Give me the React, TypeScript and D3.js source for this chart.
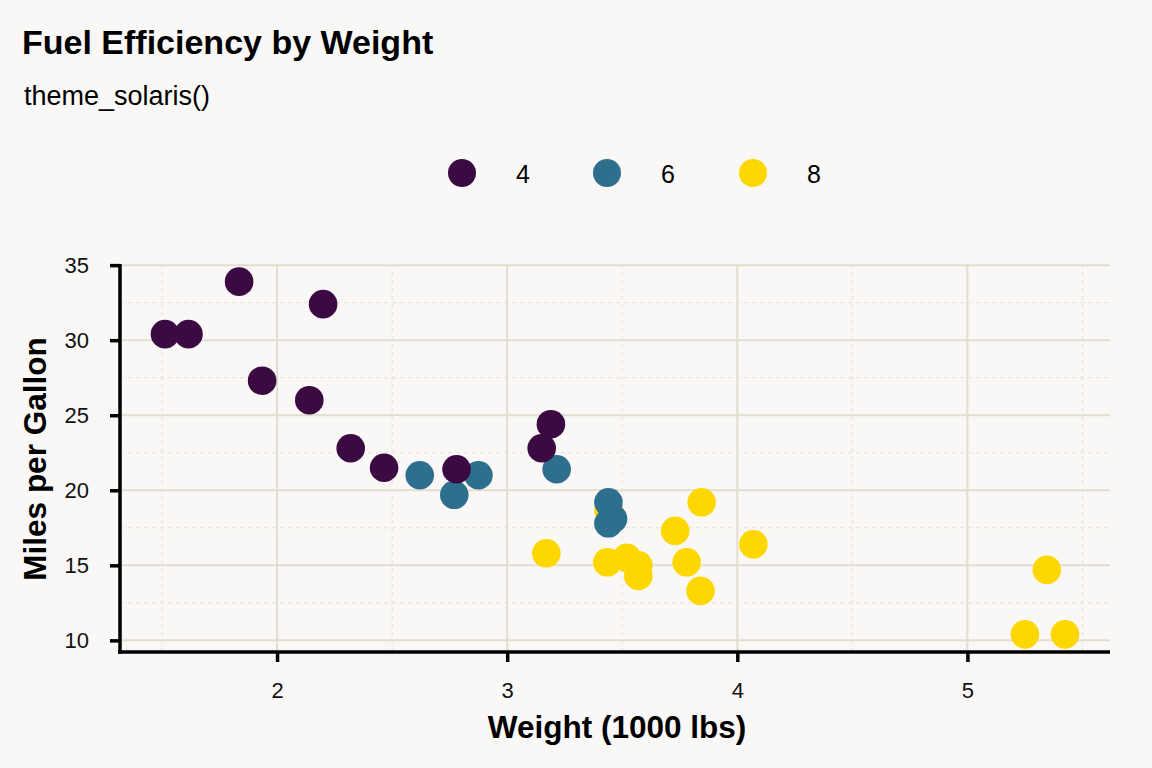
import React, { useEffect, useRef } from 'react';
import * as d3 from 'd3';

// mtcars: weight (1000 lbs), mpg, cylinders
const weights = [2.62, 2.875, 2.32, 3.215, 3.44, 3.46, 3.57, 3.19, 3.15, 3.44, 3.44, 4.07, 3.73, 3.78, 5.25, 5.424, 5.345, 2.2, 1.615, 1.835, 2.465, 3.52, 3.435, 3.84, 3.845, 1.935, 2.14, 1.513, 3.17, 2.77, 3.57, 2.78];
const mpg = [21.0, 21.0, 22.8, 21.4, 18.7, 18.1, 14.3, 24.4, 22.8, 19.2, 17.8, 16.4, 17.3, 15.2, 10.4, 10.4, 14.7, 32.4, 30.4, 33.9, 21.5, 15.5, 15.2, 13.3, 19.2, 27.3, 26.0, 30.4, 15.8, 19.7, 15.0, 21.4];
const cyl = [6, 6, 4, 6, 8, 6, 8, 4, 4, 6, 6, 8, 8, 8, 8, 8, 8, 4, 4, 4, 4, 8, 8, 8, 8, 4, 4, 4, 8, 6, 8, 4];

const cylLevels = [4, 6, 8];
const cylColors = ['#3c0a42', '#2e6f8e', '#ffd700'];
const xTicks = [2, 3, 4, 5];
const yTicks = [10, 15, 20, 25, 30, 35];
const xMinor = [1.5, 2.5, 3.5, 4.5, 5.5];
const yMinor = [12.5, 17.5, 22.5, 27.5, 32.5];

const W = 1152;
const H = 768;
const FONT = '"Liberation Sans", Arial, sans-serif';

const App: React.FC = () => {
  const svgRef = useRef<SVGSVGElement>(null);

  useEffect(() => {
    if (!svgRef.current) return;
    const svg = d3.select(svgRef.current);
    svg.selectAll('*').remove();

    const left = 120;
    const right = 1110;
    const top = 264;
    const bottom = 652;

    // ggplot-style 5% expansion around the data range
    const xExt = d3.extent(weights) as [number, number];
    const yExt = d3.extent(mpg) as [number, number];
    const xPad = (xExt[1] - xExt[0]) * 0.05;
    const yPad = (yExt[1] - yExt[0]) * 0.05;

    const x = d3.scaleLinear().domain([xExt[0] - xPad, xExt[1] + xPad]).range([left, right]);
    const y = d3.scaleLinear().domain([yExt[0] - yPad, yExt[1] + yPad]).range([bottom, top]);
    const color = d3.scaleOrdinal<number, string>().domain(cylLevels).range(cylColors);

    svg.append('rect').attr('width', W).attr('height', H).attr('fill', '#f9f8f6');

    svg.append('text')
      .attr('x', 22).attr('y', 54)
      .attr('font-family', FONT).attr('font-weight', 'bold').attr('font-size', 34)
      .attr('fill', '#000')
      .text('Fuel Efficiency by Weight');

    svg.append('text')
      .attr('x', 24).attr('y', 105)
      .attr('font-family', FONT).attr('font-size', 27)
      .attr('fill', '#000')
      .text('theme_solaris()');

    // legend
    const legendX = [462, 607, 753];
    const legend = svg.append('g');
    cylLevels.forEach((c, i) => {
      legend.append('circle')
        .attr('cx', legendX[i]).attr('cy', 173).attr('r', 14)
        .attr('fill', color(c));
      legend.append('text')
        .attr('x', legendX[i] + 54).attr('y', 174)
        .attr('dy', '0.35em')
        .attr('font-family', FONT).attr('font-size', 25)
        .text(String(c));
    });

    const grid = svg.append('g');
    const [x0, x1] = x.range();
    const [y0, y1] = y.range();

    grid.selectAll('.xminor').data(xMinor).enter().append('line')
      .attr('x1', (d) => x(d)).attr('x2', (d) => x(d))
      .attr('y1', y0).attr('y2', y1)
      .attr('stroke', '#e6dfd3').attr('stroke-width', 1).attr('stroke-dasharray', '4,4');
    grid.selectAll('.yminor').data(yMinor).enter().append('line')
      .attr('x1', x0).attr('x2', x1)
      .attr('y1', (d) => y(d)).attr('y2', (d) => y(d))
      .attr('stroke', '#e6dfd3').attr('stroke-width', 1).attr('stroke-dasharray', '4,4');
    grid.selectAll('.xmajor').data(xTicks).enter().append('line')
      .attr('x1', (d) => x(d)).attr('x2', (d) => x(d))
      .attr('y1', y0).attr('y2', y1)
      .attr('stroke', '#e4ddcf').attr('stroke-width', 2);
    grid.selectAll('.ymajor').data(yTicks).enter().append('line')
      .attr('x1', x0).attr('x2', x1)
      .attr('y1', (d) => y(d)).attr('y2', (d) => y(d))
      .attr('stroke', '#e4ddcf').attr('stroke-width', 2);

    // axes: only left and bottom lines, ticks outward
    const styleAxis = (g: any) => {
      g.select('.domain').remove();
      g.selectAll('line').attr('stroke', '#000').attr('stroke-width', 3.5);
      g.selectAll('text').attr('fill', '#111').attr('font-family', FONT).attr('font-size', 22);
    };

    svg.append('g')
      .attr('transform', `translate(0,${bottom})`)
      .call(d3.axisBottom(x).tickValues(xTicks).tickSize(10).tickPadding(20).tickFormat(d3.format('d')))
      .call(styleAxis);

    svg.append('g')
      .attr('transform', `translate(${left},0)`)
      .call(d3.axisLeft(y).tickValues(yTicks).tickSize(10).tickPadding(21).tickFormat(d3.format('d')))
      .call(styleAxis);

    svg.append('line')
      .attr('x1', left).attr('x2', left).attr('y1', top).attr('y2', bottom + 1.75)
      .attr('stroke', '#000').attr('stroke-width', 3.5);
    svg.append('line')
      .attr('x1', left - 1.75).attr('x2', right).attr('y1', bottom).attr('y2', bottom)
      .attr('stroke', '#000').attr('stroke-width', 3.5);

    svg.append('g').selectAll('circle')
      .data(weights.map((w, i) => ({ w, m: mpg[i], c: cyl[i] })))
      .enter().append('circle')
      .attr('cx', (d) => x(d.w))
      .attr('cy', (d) => y(d.m))
      .attr('r', 14.3)
      .attr('fill', (d) => color(d.c));

    svg.append('text')
      .attr('x', (left + right) / 2 + 2).attr('y', 738)
      .attr('text-anchor', 'middle')
      .attr('font-family', FONT).attr('font-weight', 'bold').attr('font-size', 31.5)
      .text('Weight (1000 lbs)');

    svg.append('text')
      .attr('transform', `translate(46,${(top + bottom) / 2 + 1}) rotate(-90)`)
      .attr('text-anchor', 'middle')
      .attr('font-family', FONT).attr('font-weight', 'bold').attr('font-size', 31.5)
      .text('Miles per Gallon');
  }, []);

  return (
    <svg
      ref={svgRef}
      width={W}
      height={H}
      style={{ display: 'block', position: 'absolute', left: 0, top: 0 }}
    />
  );
};

export default App;
